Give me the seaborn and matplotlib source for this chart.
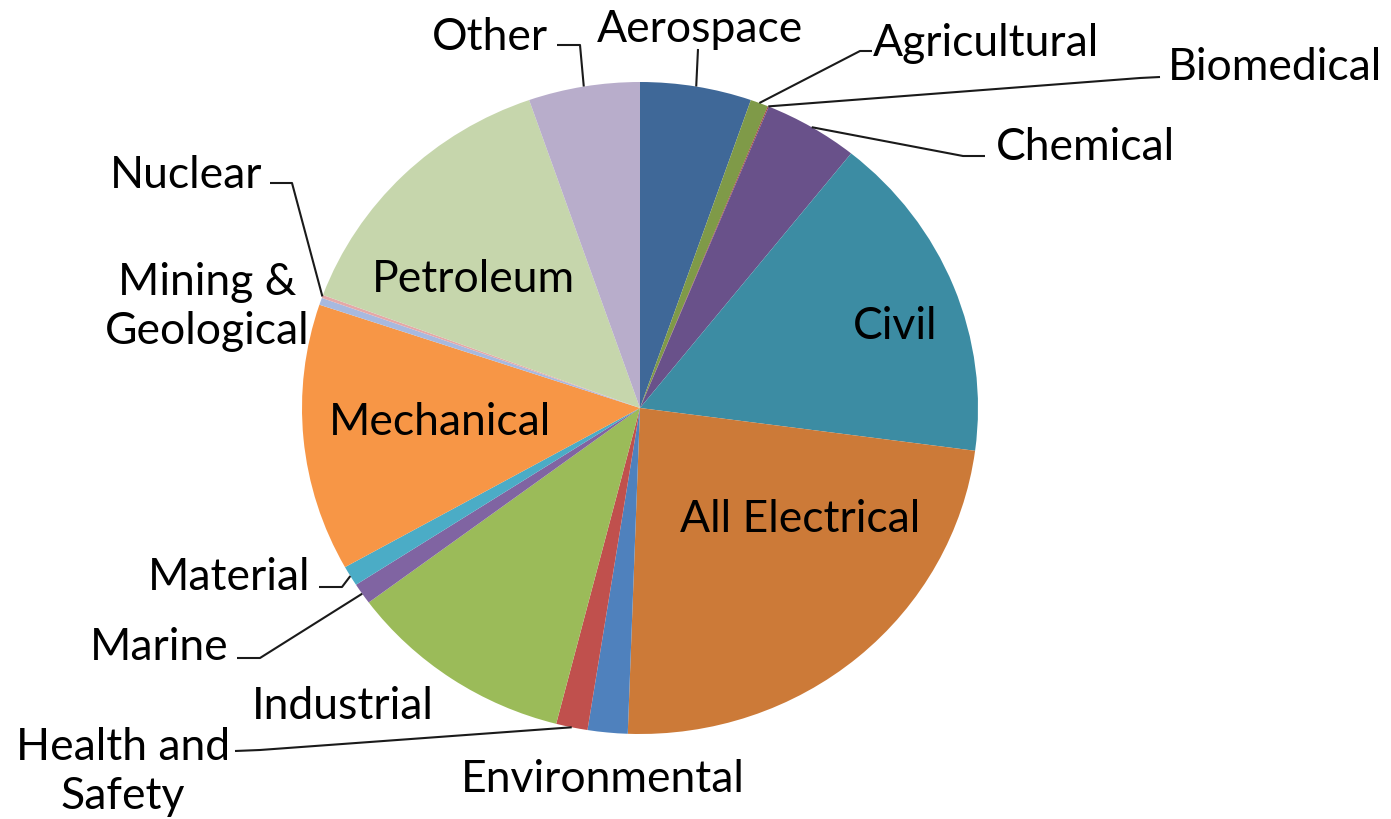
import matplotlib

matplotlib.use("Agg")
import matplotlib.pyplot as plt
import numpy as np
import seaborn as sns

# engineering disciplines, share in percent
labels = [
    "Aerospace", "Agricultural", "Biomedical", "Chemical", "Civil",
    "All Electrical", "Environmental", "Health and\nSafety", "Industrial",
    "Marine", "Material", "Mechanical", "Mining &\nGeological", "Nuclear",
    "Petroleum", "Other",
]
shares = [5.3, 0.85, 0.05, 4.5, 16.3, 23.4, 1.9, 1.5, 10.8, 1.05, 1.0, 13.2,
          0.35, 0.15, 14.0, 5.3]
colors = [
    "#3f6898", "#7f9a48", "#9d3e3b", "#69518a", "#3c8ca3", "#cc7a38",
    "#4f81bd", "#c0504d", "#9bbb59", "#8064a2", "#4bacc6", "#f79646",
    "#a7b9df", "#e5a8a7", "#c6d6ac", "#b8adcb",
]

W, H = 1391, 820
CX, CY, RX, RY = 640, 409, 338, 326


def to_data(x, y):
    # pixel position (top-left origin) -> pie data units
    return (x - CX) / RX, (CY - y) / RY


# label layout in pixels
inside = {
    "Civil": (895, 327),
    "All Electrical": (800, 520),
    "Mechanical": (440, 423),
    "Petroleum": (473, 280),
}
outside = {
    "Other": ((548, 37), "right", [(557, 46), (580, 46)]),
    "Aerospace": ((700, 30), "center", [(698, 50)]),
    "Agricultural": ((873, 43), "left", [(872, 52), (860, 52)]),
    "Biomedical": ((1168, 68), "left", [(1160, 78), (1140, 79)]),
    "Chemical": ((996, 148), "left", [(985, 157), (963, 157)]),
    "Nuclear": ((262, 175), "right", [(270, 184), (292, 184)]),
    "Mining &\nGeological": ((207, 307), "center", None),
    "Material": ((310, 578), "right", [(319, 588), (342, 588)]),
    "Marine": ((228, 648), "right", [(237, 659), (260, 659)]),
    "Industrial": ((343, 707), "center", None),
    "Health and\nSafety": ((123, 772), "center", [(235, 752), (260, 751)]),
    "Environmental": ((603, 780), "center", None),
}

sns.set_theme(style="white")
plt.rcParams["font.family"] = ["Lato", "DejaVu Sans"]
FS = 32

fig = plt.figure(figsize=(W / 100, H / 100), dpi=100)
ax = fig.add_axes([0, 0, 1, 1])
wedges, _ = ax.pie(
    shares,
    colors=colors,
    startangle=90,
    counterclock=False,
    radius=1,
    wedgeprops=dict(linewidth=0),
)
ax.set_aspect("auto")
ax.set_xlim(to_data(0, 0)[0], to_data(W, 0)[0])
ax.set_ylim(to_data(0, H)[1], to_data(0, 0)[1])
ax.axis("off")

for name, (px, py) in inside.items():
    ax.text(*to_data(px, py), name, ha="center", va="center",
            fontsize=FS, color="black")

for name, ((px, py), ha, path) in outside.items():
    ax.text(*to_data(px, py), name, ha=ha, va="center", fontsize=FS,
            color="black", linespacing=1.25, multialignment="center")
    if path is None:
        continue
    w = wedges[labels.index(name)]
    mid = np.deg2rad((w.theta1 + w.theta2) / 2)
    pts = [to_data(x, y) for x, y in path] + [(np.cos(mid), np.sin(mid))]
    xs, ys = zip(*pts)
    ax.plot(xs, ys, color="#1a1a1a", lw=1.5, solid_capstyle="butt")

fig.savefig("out.png", dpi=100)
